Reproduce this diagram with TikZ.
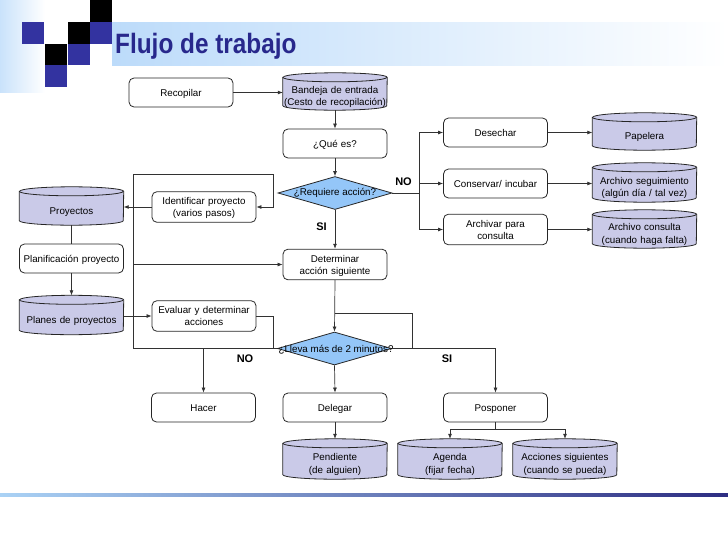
\documentclass[tikz,border=0pt]{standalone}
\usepackage{fontspec}
\setmainfont{Liberation Sans}
\usetikzlibrary{arrows.meta,shapes.geometric}
\pgfdeclarelayer{bg}
\pgfsetlayers{bg,main}
\definecolor{sqblue}{RGB}{51,51,160}
\definecolor{ttlblue}{RGB}{40,40,140}
\definecolor{bandblue}{RGB}{188,219,250}
\definecolor{cylf}{RGB}{202,202,232}
\definecolor{diaf}{RGB}{148,198,248}
\definecolor{lnc}{RGB}{50,50,50}
\definecolor{barL}{RGB}{170,210,245}
\definecolor{barR}{RGB}{45,45,130}
\newcommand\bxstrut{\rule[-2.5pt]{0pt}{12pt}}
\newcommand\cylsh[1]{%
  \path[fill=cylf,draw=black!85,line width=0.8pt] (#1.north west) -- ([yshift=9pt]#1.south west)
    arc[start angle=180,end angle=360,x radius=52pt,y radius=4.5pt] -- (#1.north east)
    arc[start angle=0,end angle=180,x radius=52pt,y radius=4.5pt] -- cycle;
  \draw[draw=black!85,line width=0.8pt] (#1.north west)
    arc[start angle=180,end angle=360,x radius=52pt,y radius=4.5pt];}
\begin{document}
\begin{tikzpicture}[x=1pt,y=-1pt,
  txt/.style={font=\fontsize{9.8}{12}\selectfont},
  box/.style={txt,draw=black!85,line width=0.8pt,rounded corners=5pt,minimum height=29pt,text width=104pt,inner xsep=0pt,align=center,
    execute at begin node=\bxstrut, execute at end node=\bxstrut},
  cyl/.style={font=\fontsize{9.8}{12.5}\selectfont,minimum height=38pt,text width=104pt,inner xsep=0pt,inner ysep=0pt,align=center,
    execute at begin node=\bxstrut, execute at end node=\bxstrut},
  dia/.style={diamond,draw=black!85,fill=diaf,line width=0.8pt,minimum width=114pt,minimum height=33pt,inner sep=0pt},
  lbl/.style={font=\fontsize{11}{13}\selectfont\bfseries},
  ln/.style={draw=lnc,line width=0.7pt},
  arr/.style={ln,-{Latex[length=5pt,width=4pt]}},
]
\useasboundingbox (0,0) rectangle (728,546);
% header decoration
\shade[left color=bandblue!80,right color=white] (0,0) rectangle (45,92);
\shade[left color=bandblue,right color=white] (112,22) rectangle (728,65);
\fill[black]  (90,0) rectangle (112,22);
\fill[sqblue] (22,22) rectangle (44,43.5);
\fill[black]  (67.5,22) rectangle (89.5,43.5);
\fill[sqblue] (90,22) rectangle (112,43.5);
\fill[black]  (45,43.5) rectangle (67,65);
\fill[sqblue] (67.5,43.5) rectangle (89.5,65);
\fill[sqblue] (45,65) rectangle (67,87);
\node[anchor=base west,inner sep=0pt,text=ttlblue,font=\fontsize{28}{30}\selectfont\bfseries] (title) at (115,53.5) {\scalebox{0.87}[1]{Flujo de trabajo}};
\shade[left color=barL,right color=barR] (0,493.2) rectangle (728,496);

% nodes
\node[box] (rec) at (181,92.5) {Recopilar};
\node[cyl,minimum height=37pt] (ban) at (335,96) {Bandeja de entrada\\(Cesto de recopilación)};
\node[box] (que) at (335,143.5) {¿Qué es?};
\node[dia] (d1) at (335,193) {};
\node[txt] (t1) at (335,193) {¿Requiere acción?};
\node[box] (des) at (495.5,132.5) {Desechar};
\node[box] (con) at (495.5,183.5) {Conservar/ incubar};
\node[box] (arc) at (495.5,229.5) {Archivar para\\consulta};
\node[cyl,minimum height=37pt] (pap) at (644.5,136) {Papelera};
\node[cyl,minimum height=39pt] (seg) at (644.5,187) {Archivo seguimiento\\(algún día / tal vez)};
\node[cyl] (cns) at (644.5,233.5) {Archivo consulta\\(cuando haga falta)};
\node[cyl] (pro) at (71.5,210.5) {Proyectos};
\node[box] (ide) at (204,207) {Identificar proyecto\\(varios pasos)};
\node[box] (pla) at (71.5,258.5) {Planificación proyecto};
\node[cyl,minimum height=39pt] (pln) at (71.5,319.5) {Planes de proyectos};
\node[box] (eva) at (204,316) {Evaluar y determinar\\acciones};
\node[box] (det) at (335,264.5) {Determinar\\acción siguiente};
\node[dia] (d2) at (334.5,348.5) {};
\node[txt] (t2) at (336,349.5) {¿Lleva más de 2 minutos?};
\node[box] (hac) at (203.5,407.5) {Hacer};
\node[box] (del) at (335,407.5) {Delegar};
\node[box] (pos) at (495.5,407.5) {Posponer};
\node[cyl,minimum height=40pt] (pen) at (335,463.5) {Pendiente\\(de alguien)};
\node[cyl,minimum height=40pt] (age) at (450,463.5) {Agenda\\(fijar fecha)};
\node[cyl,minimum height=40pt] (acc) at (565,463.5) {Acciones siguientes\\(cuando se pueda)};

\begin{pgfonlayer}{bg}
\foreach \n in {ban,pap,seg,cns,pro,pln,pen,age,acc} {\cylsh{\n}}
\end{pgfonlayer}

% labels
\node[lbl] (no1) at (403.5,182) {NO};
\node[lbl] (si1) at (321.5,227) {SI};
\node[lbl] (no2) at (245,359) {NO};
\node[lbl] (si2) at (447,359) {SI};

% coordinates
\coordinate (nb) at (419,193);
\coordinate (lt) at (133,174);
\coordinate (lt2) at (273,174);
\coordinate (lb) at (133,348);
\coordinate (lb2) at (273,348);
\coordinate (lr1) at (412,348.5);
\coordinate (lr2) at (412,313);
\coordinate (ps) at (495.5,429);

% connectors
\draw[arr] (rec.east) -- (rec.east -| ban.west);
\draw[arr] ([yshift=4.5pt]ban.south) -- (que.north);
\draw[arr] (que.south) -- (d1.north);
\draw[arr] (d1.south) -- (det.north);
\draw[ln] (d1.east) -- (nb);
\draw[arr] (nb) |- (des.west);
\draw[arr] (nb) |- (con.west);
\draw[arr] (nb) |- (arc.west);
\draw[arr] (des.east) -- (des.east -| pap.west);
\draw[arr] (con.east) -- (con.east -| seg.west);
\draw[arr] (arc.east) -- (arc.east -| cns.west);
\draw[arr] (lt) -- (lt2) |- (ide.east);
\draw[ln] (eva.east) -| (lb2) -- (lb) -- (lt);
\draw[arr] (lt |- det.west) -- (det.west);
\draw[arr] (ide.west) -- (ide.west -| pro.east);
\draw[ln] ([yshift=4.5pt]pro.south) -- (pla.north);
\draw[arr] (pla.south) -- ([yshift=4.5pt]pln.north);
\draw[arr] (eva.west -| pln.east) -- (eva.west);
\draw[arr] (det.south) -- (d2.north);
\draw[ln] (lr1) -- (lr2) -- (det.south |- lr2);
\draw[arr] (d2.east) -| (pos.north);
\draw[arr] (d2.west) -| (hac.north);
\draw[arr] (d2.south) -- (del.north);
\draw[arr] (del.south) -- ([yshift=4.5pt]pen.north);
\draw[ln] (pos.south) -- (ps);
\draw[arr] (ps) -| ([yshift=4.5pt]age.north);
\draw[arr] (ps) -| ([yshift=4.5pt]acc.north);
\end{tikzpicture}
\end{document}
